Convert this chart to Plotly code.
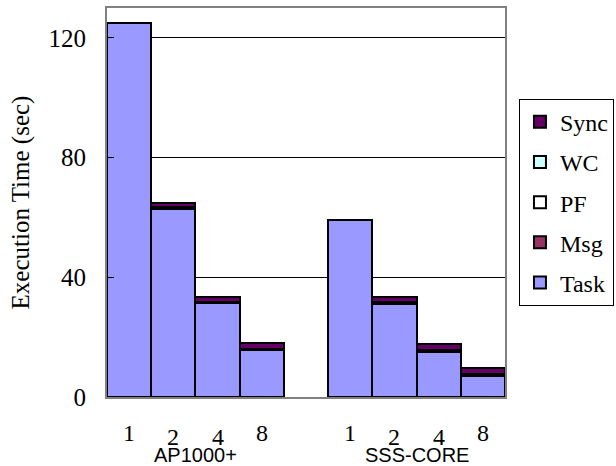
import plotly.graph_objects as go

groups = ["AP1000+", "SSS-CORE"]
procs = ["1", "2", "4", "8"]

# values per bar: AP1000+ (1,2,4,8), then SSS-CORE (1,2,4,8)
task = [125.0, 62.7, 31.3, 15.6, 59.2, 31.1, 15.2, 7.0]
msg = [0.0, 0.3, 0.3, 0.3, 0.0, 0.3, 0.3, 0.4]
pf = [0.0, 0.2, 0.2, 0.2, 0.0, 0.2, 0.2, 0.2]
wc = [0.0, 0.2, 0.1, 0.1, 0.0, 0.1, 0.1, 0.2]
sync = [0.0, 1.6, 1.6, 1.8, 0.0, 1.6, 1.9, 2.0]

series = [
    ("Task", task, "#9999FF"),
    ("Msg", msg, "#993366"),
    ("PF", pf, "#FFFFFF"),
    ("WC", wc, "#CCFFFF"),
    ("Sync", sync, "#660066"),
]

# x positions: 4 bars per group, one empty slot between groups
xpos = []
for gi in range(len(groups)):
    for pi in range(len(procs)):
        xpos.append(gi * (len(procs) + 1) + pi)

fig = go.Figure()
n = len(series)
for i, (name, vals, col) in enumerate(series):
    fig.add_trace(go.Bar(
        x=xpos, y=vals, name=name, legendgroup=name, legendrank=n - i,
        marker=dict(color=col, line=dict(color="black", width=2)),
    ))

serif = "Liberation Serif"
annotations = []
for gi, g in enumerate(groups):
    for pi, p in enumerate(procs):
        x = gi * (len(procs) + 1) + pi
        stagger = pi in (1, 2)
        annotations.append(dict(
            x=x, y=-0.104 if stagger else -0.092, xref="x", yref="paper",
            text=p, showarrow=False, yanchor="middle",
            font=dict(family=serif, size=24, color="black"),
        ))
    annotations.append(dict(
        x=gi * (len(procs) + 1) + 1.5, y=-0.15, xref="x", yref="paper",
        text=g, showarrow=False, yanchor="middle",
        font=dict(family="Liberation Sans", size=20, color="black"),
    ))

fig.update_layout(
    width=616, height=466,
    margin=dict(l=107, r=0, t=8, b=69),
    barmode="stack", bargap=0,
    plot_bgcolor="white", paper_bgcolor="white",
    font=dict(family=serif, size=25, color="black"),
    showlegend=True,
    legend=dict(
        x=0.996, y=0.767, xanchor="right", yanchor="top",
        traceorder="grouped", tracegroupgap=6,
        bordercolor="black", borderwidth=1, bgcolor="white",
        font=dict(family=serif, size=24, color="black"),
        itemwidth=30,
    ),
    xaxis=dict(
        domain=[0, 398 / 509],
        range=[-0.5, 8.5], showticklabels=False, ticks="",
        showgrid=False, zeroline=False,
        showline=True, linecolor="#808080", linewidth=2, mirror=True,
    ),
    yaxis=dict(
        range=[0, 130], tickvals=[0, 40, 80, 120],
        ticks="inside", ticklen=7, tickcolor="black",
        ticklabelstandoff=14,
        tickfont=dict(family=serif, size=25),
        showgrid=True, gridcolor="black", gridwidth=1,
        zeroline=False,
        showline=True, linecolor="#808080", linewidth=2, mirror=True,
        title=dict(text="Execution Time (sec)", standoff=12,
                   font=dict(family=serif, size=25)),
    ),
    annotations=annotations,
)

fig.write_html("out.html", config={"displayModeBar": False},
               post_script="document.body.style.margin='0';")
